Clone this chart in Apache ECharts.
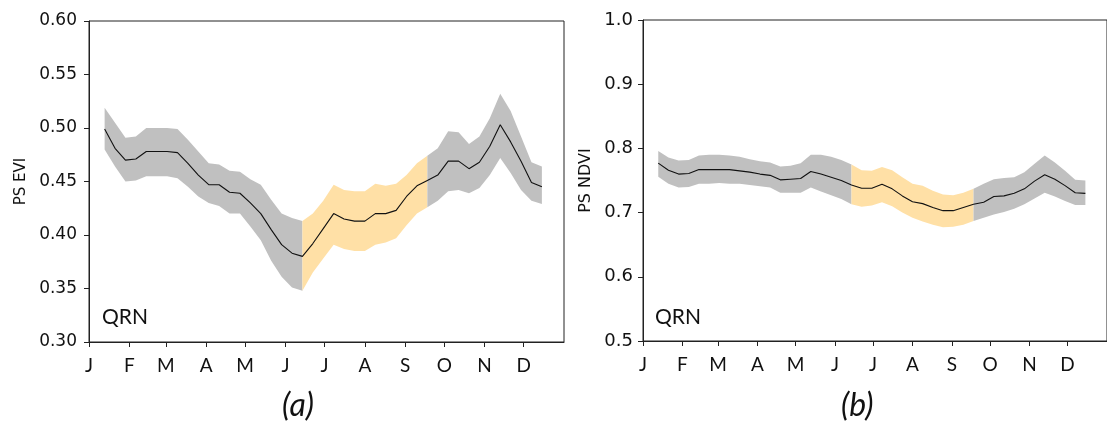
<!DOCTYPE html>
<html>
<head>
<meta charset="utf-8">
<script src="https://cdn.jsdelivr.net/npm/echarts@6/dist/echarts.min.js"></script>
<style>
  html, body { margin: 0; padding: 0; background: #fff; }
  #chart { width: 1107px; height: 436px; }
</style>
</head>
<body>
<div id="chart"></div>
<script>
// ---- data ----
const days = [12,20,28,36,44,52,60,68,76,84,92,100,108,116,124,132,140,148,156,164,172,180,188,196,204,212,220,228,236,244,252,260,268,276,284,292,300,308,316,324,332,340,348];

const evi = [0.499,0.481,0.470,0.471,0.478,0.478,0.478,0.477,0.467,0.456,
             0.447,0.447,0.440,0.439,0.430,0.420,0.405,0.391,0.383,0.380,
             0.392,0.406,0.420,0.415,0.413,0.413,0.420,0.420,0.423,0.436,
             0.446,0.451,0.456,0.469,0.469,0.462,0.468,0.483,0.503,0.487,
             0.469,0.449,0.445];
const eviUpper = [0.519,0.505,0.491,0.492,0.500,0.500,0.500,0.499,0.489,0.478,
                  0.467,0.466,0.460,0.459,0.452,0.447,0.433,0.420,0.416,0.413,
                  0.420,0.432,0.447,0.442,0.441,0.441,0.448,0.446,0.448,0.456,
                  0.467,0.474,0.481,0.497,0.496,0.485,0.492,0.509,0.532,0.516,
                  0.492,0.468,0.464];
const eviLower = [0.480,0.464,0.450,0.451,0.455,0.455,0.455,0.453,0.445,0.436,
                  0.430,0.427,0.420,0.420,0.408,0.395,0.376,0.361,0.351,0.348,
                  0.365,0.378,0.391,0.387,0.385,0.385,0.391,0.393,0.397,0.409,
                  0.420,0.426,0.432,0.441,0.442,0.439,0.444,0.456,0.472,0.458,
                  0.442,0.432,0.429];

const ndvi = [0.777,0.766,0.760,0.761,0.767,0.767,0.767,0.767,0.765,0.763,
              0.760,0.758,0.751,0.752,0.753,0.764,0.760,0.755,0.750,0.743,
              0.738,0.738,0.744,0.737,0.726,0.717,0.714,0.708,0.703,0.703,
              0.708,0.713,0.716,0.725,0.726,0.730,0.737,0.749,0.759,0.752,
              0.742,0.731,0.730];
const ndviUpper = [0.796,0.786,0.781,0.782,0.789,0.790,0.790,0.789,0.787,0.783,
                   0.780,0.778,0.772,0.773,0.777,0.790,0.790,0.787,0.782,0.775,
                   0.766,0.765,0.771,0.766,0.755,0.745,0.742,0.734,0.728,0.727,
                   0.731,0.737,0.745,0.752,0.754,0.755,0.763,0.776,0.789,0.778,
                   0.765,0.751,0.750];
const ndviLower = [0.756,0.745,0.739,0.740,0.745,0.745,0.746,0.745,0.745,0.743,
                   0.741,0.739,0.731,0.731,0.731,0.739,0.733,0.727,0.721,0.713,
                   0.709,0.711,0.716,0.710,0.700,0.692,0.686,0.681,0.677,0.678,
                   0.681,0.687,0.692,0.697,0.701,0.706,0.713,0.722,0.731,0.725,
                   0.718,0.712,0.712];

// band segments: [startIndex, endIndex, colourKey]
const segments = [[0, 19, 0], [19, 31, 1], [31, 42, 0]];
const bandColors = ['#c0c0c0', '#ffe0a6'];

const monthStarts = [0,31,59,90,120,151,181,212,243,273,304,334];
const monthLabels = ['J','F','M','A','M','J','J','A','S','O','N','D'];
const eviTicks = [0.30,0.35,0.40,0.45,0.50,0.55,0.60];
const ndviTicks = [0.5,0.6,0.7,0.8,0.9,1.0];

// ---- chart ----
const chart = echarts.init(document.getElementById('chart'), null, {renderer: 'canvas'});
const axisColor = '#222';
const numFont = 'DejaVu Sans';
const txtFont = 'Lato';

function xAxisDef(gridIndex, fontSize) {
  return {
    type: 'value', gridIndex: gridIndex, min: 0, max: 365,
    splitLine: {show: false},
    axisLine: {show: true, onZero: false, lineStyle: {color: axisColor, width: 1}},
    axisTick: {show: true, length: 5, customValues: monthStarts, lineStyle: {color: axisColor}},
    axisLabel: {
      show: true, customValues: monthStarts, margin: 14,
      color: '#111', fontFamily: txtFont, fontSize: fontSize,
      formatter: function (v) {
        const i = monthStarts.indexOf(Math.round(v));
        return i >= 0 ? monthLabels[i] : '';
      }
    }
  };
}

function yAxisDef(gridIndex, ticks, interval, digits, name, fontSize, nameSize, margin, nameGap) {
  return {
    type: 'value', gridIndex: gridIndex,
    min: ticks[0], max: ticks[ticks.length - 1], interval: interval,
    name: name, nameLocation: 'middle', nameGap: nameGap,
    nameTextStyle: {fontFamily: numFont, fontSize: nameSize, color: '#111'},
    splitLine: {show: false},
    axisLine: {show: true, lineStyle: {color: axisColor, width: 1}},
    axisTick: {show: true, length: 5, lineStyle: {color: axisColor}},
    axisLabel: {
      margin: margin, color: '#111', fontFamily: numFont, fontSize: fontSize,
      formatter: function (v) { return v.toFixed(digits); }
    }
  };
}

function bandSeries(idx, upper, lower) {
  return {
    type: 'custom', xAxisIndex: idx, yAxisIndex: idx, z: 1,
    silent: true, clip: true,
    data: segments,
    renderItem: function (params, api) {
      const s = api.value(0), e = api.value(1), c = api.value(2);
      const pts = [];
      for (let i = s; i <= e; i++) pts.push(api.coord([days[i], upper[i]]));
      for (let i = e; i >= s; i--) pts.push(api.coord([days[i], lower[i]]));
      return {type: 'polygon', shape: {points: pts}, style: {fill: bandColors[c], stroke: null}};
    },
    encode: {x: [], y: []}
  };
}

function lineSeries(idx, vals) {
  return {
    type: 'line', xAxisIndex: idx, yAxisIndex: idx, z: 3,
    showSymbol: false, symbol: 'none', silent: true,
    lineStyle: {color: '#111', width: 1.1},
    data: days.map(function (d, i) { return [d, vals[i]]; })
  };
}

const option = {
  animation: false,
  backgroundColor: '#fff',
  grid: [
    {left: 89, top: 21, width: 475, height: 321, show: true, borderColor: axisColor, borderWidth: 1, backgroundColor: 'transparent'},
    {left: 643, top: 20, width: 475, height: 321, show: true, borderColor: axisColor, borderWidth: 1, backgroundColor: 'transparent'}
  ],
  xAxis: [xAxisDef(0, 19), xAxisDef(1, 19)],
  yAxis: [
    yAxisDef(0, eviTicks, 0.05, 2, 'PS EVI', 17, 15, 12, 60),
    yAxisDef(1, ndviTicks, 0.1, 1, 'PS NDVI', 18, 16, 10, 49)
  ],
  series: [
    bandSeries(0, eviUpper, eviLower),
    lineSeries(0, evi),
    bandSeries(1, ndviUpper, ndviLower),
    lineSeries(1, ndvi)
  ],
  graphic: [
    {type: 'text', left: 102, top: 307, style: {text: 'QRN', fontFamily: txtFont, fontSize: 21, fill: '#111'}},
    {type: 'text', left: 655, top: 307, style: {text: 'QRN', fontFamily: txtFont, fontSize: 21, fill: '#111'}},
    {type: 'text', left: 282, top: 390, style: {text: '(a)', fontFamily: txtFont, fontSize: 32, fontStyle: 'italic', fill: '#111'}},
    {type: 'text', left: 841, top: 390, style: {text: '(b)', fontFamily: txtFont, fontSize: 32, fontStyle: 'italic', fill: '#111'}}
  ]
};
chart.setOption(option);
</script>
</body>
</html>
